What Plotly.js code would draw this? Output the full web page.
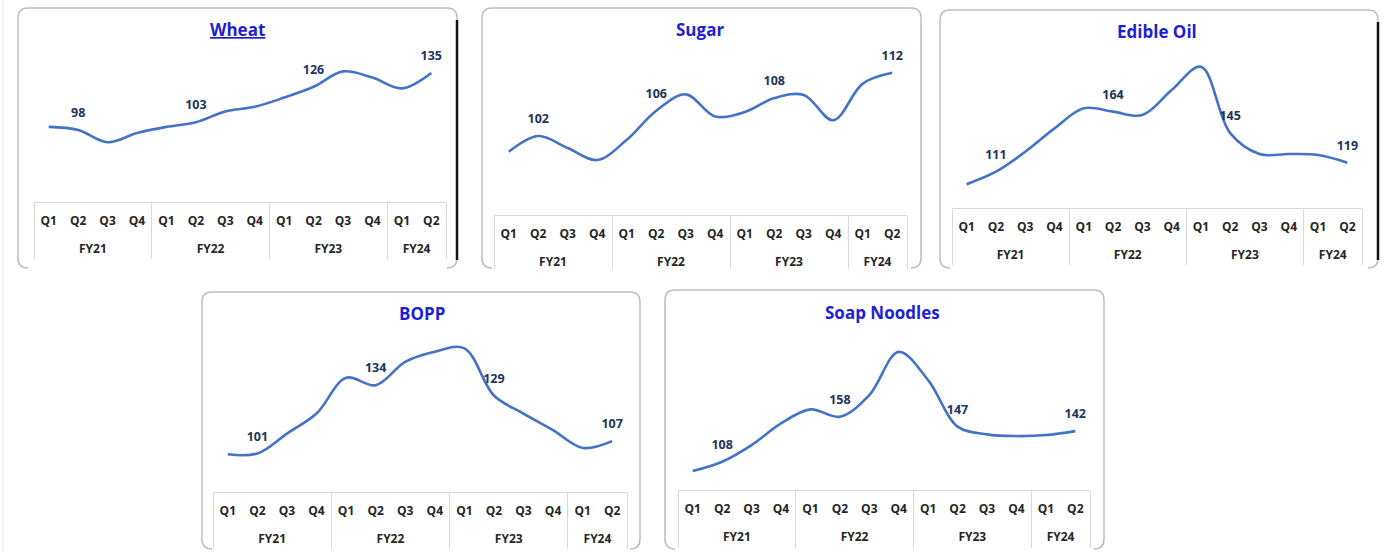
<!DOCTYPE html>
<html>
<head>
<meta charset="utf-8">
<script src="https://cdn.plot.ly/plotly-3.0.1.min.js"></script>
<style>
html,body{margin:0;padding:0;background:#fff;}
#chart{width:1386px;height:552px;}
</style>
</head>
<body>
<div id="chart"></div>
<script>
// ---- data ----
var fiscalYears = ['FY21','FY21','FY21','FY21','FY22','FY22','FY22','FY22','FY23','FY23','FY23','FY23','FY24','FY24'];
var quarters    = ['Q1','Q2','Q3','Q4','Q1','Q2','Q3','Q4','Q1','Q2','Q3','Q4','Q1','Q2'];
var wheat       = [100, 98, 90, 96, 100, 103, 110, 113, 119, 126, 136, 132, 125, 135];
var sugar       = [99.5, 102, 100.1, 98.2, 101.4, 106, 108.6, 105.1, 105.8, 108, 108.5, 104.5, 110.3, 112];
var edibleOil   = [100, 111, 128.6, 149.2, 166.9, 164, 161, 183, 203.6, 145, 126.6, 126.6, 125.7, 119];
var bopp        = [100.6, 101, 110.6, 120.3, 137.6, 134, 145.3, 150.2, 151.8, 129, 120.3, 112.3, 103.7, 107];
var soapNoodles = [97.6, 108, 126.5, 150.6, 166.1, 158, 182, 230, 198.7, 147, 138.4, 136.5, 137.6, 142];
var labelledPoints = [1, 5, 9, 13];
var panelTitles = ['Wheat', 'Sugar', 'Edible Oil', 'BOPP', 'Soap Noodles'];
var panelSeries = [wheat, sugar, edibleOil, bopp, soapNoodles];

// ---- derived category positions (category index scale) ----
var qPos = quarters.map(function(q, i){ return i; });
var fyNames = [], fyCenters = [], fyBounds = [-0.5];
fiscalYears.forEach(function(fy, i){
  var k = fyNames.indexOf(fy);
  if (k < 0) { fyNames.push(fy); fyCenters.push([i, i]); if (i > 0) fyBounds.push(i - 0.5); }
  else { fyCenters[k][1] = i; }
});
fyBounds.push(fiscalYears.length - 0.5);
fyCenters = fyCenters.map(function(c){ return (c[0] + c[1]) / 2; });
var xRange = [-0.5, fiscalYears.length - 0.5];

// ---- layout geometry (pixels) ----
var W = 1386, H = 552;
var geom = [
  {x0:34,  x1:446,  top:40,  bottom:202, yr:[51.2, 156.4], tx:237,  ty:29,  fr:[18,8,457,268],   black:true,  tl:56},
  {x0:494, x1:907,  top:40,  bottom:215, yr:[89.5, 117.2], tx:700,  ty:29,  fr:[482,8,921,268],  black:false, tl:53},
  {x0:952, x1:1362, top:40,  bottom:208, yr:[79, 227.2],   tx:1157, ty:31,  fr:[940,10,1378,268], black:true, tl:56},
  {x0:213, x1:627,  top:320, bottom:492, yr:[82.4, 165.5], tx:422,  ty:313, fr:[202,292,640,549], black:false, tl:56},
  {x0:678, x1:1090, top:320, bottom:490, yr:[76.6, 265.4], tx:883,  ty:312, fr:[665,290,1104,549], black:false, tl:57}
];
function px(x){ return x / W; }
function py(y){ return 1 - y / H; }

var font = 'Open Sans, Lato, sans-serif';
var tickFont = {family: font, size: 12, color: '#262626', weight: 700};
var data = [];
var layout = {
  width: W, height: H,
  margin: {l:0, r:0, t:0, b:0},
  paper_bgcolor: '#ffffff',
  plot_bgcolor: 'rgba(0,0,0,0)',
  showlegend: false,
  hovermode: false,
  annotations: [],
  shapes: []
};

panelSeries.forEach(function(vals, i){
  var g = geom[i];
  var n = i === 0 ? '' : String(i + 1);
  var nq = String(i + 6), nf = String(i + 11);
  data.push({
    type: 'scatter',
    mode: 'lines+markers+text',
    x: [fiscalYears, quarters],
    y: vals,
    xaxis: 'x' + n,
    yaxis: 'y' + n,
    line: {color: '#4472C4', width: 2.6, shape: 'spline', smoothing: 1},
    marker: {size: 14, color: 'rgba(0,0,0,0)'},
    text: vals.map(function(v, k){ return labelledPoints.indexOf(k) >= 0 ? String(v) : ''; }),
    textposition: 'top center',
    textfont: {family: font, size: 12.5, color: '#22345A', weight: 700},
    cliponaxis: false
  });
  // carrier traces so the label axes are drawn
  data.push({type: 'scatter', mode: 'none', x: qPos, y: vals, xaxis: 'x' + nq, yaxis: 'y' + n, hoverinfo: 'skip'});
  data.push({type: 'scatter', mode: 'none', x: qPos, y: vals, xaxis: 'x' + nf, yaxis: 'y' + n, hoverinfo: 'skip'});
  // main category axis (table top line)
  layout['xaxis' + n] = {
    type: 'multicategory',
    domain: [px(g.x0), px(g.x1)],
    anchor: 'y' + n,
    range: xRange,
    showline: true, linecolor: '#d9d9d9', linewidth: 1,
    showdividers: false, showticklabels: false,
    showgrid: false, zeroline: false, ticks: '',
    fixedrange: true
  };
  // quarter labels + group dividers
  layout['xaxis' + nq] = {
    overlaying: 'x' + n, anchor: 'y' + n,
    range: xRange, tickmode: 'array', tickvals: qPos, ticktext: quarters,
    ticks: '', showline: false, showgrid: false, zeroline: false,
    tickfont: tickFont, ticklabelstandoff: 10,
    minor: {tickmode: 'array', tickvals: fyBounds, ticks: 'outside', ticklen: g.tl,
            tickcolor: '#d9d9d9', tickwidth: 1, showgrid: false},
    fixedrange: true
  };
  // fiscal-year labels
  layout['xaxis' + nf] = {
    overlaying: 'x' + n, anchor: 'y' + n,
    range: xRange, tickmode: 'array', tickvals: fyCenters, ticktext: fyNames,
    ticks: '', showline: false, showgrid: false, zeroline: false,
    tickfont: tickFont, ticklabelstandoff: 38,
    fixedrange: true
  };
  layout['yaxis' + n] = {
    domain: [py(g.bottom), py(g.top)],
    anchor: 'x' + n,
    range: g.yr,
    visible: false, showgrid: false, zeroline: false,
    fixedrange: true
  };
  var title = panelTitles[i];
  layout.annotations.push({
    xref: 'paper', yref: 'paper',
    x: px(g.tx), y: py(g.ty),
    xanchor: 'center', yanchor: 'middle',
    showarrow: false,
    text: i === 0 ? '<u>' + title + '</u>' : title,
    font: {family: font, size: 17, color: '#1E1ED6', weight: 700}
  });
  // frame (rounded, open at bottom)
  var f = g.fr, r = 10;
  var p = 'M ' + px(f[0] + r) + ',' + py(f[3]) +
          ' Q ' + px(f[0]) + ',' + py(f[3]) + ' ' + px(f[0]) + ',' + py(f[3] - r) +
          ' L ' + px(f[0]) + ',' + py(f[1] + r) +
          ' Q ' + px(f[0]) + ',' + py(f[1]) + ' ' + px(f[0] + r) + ',' + py(f[1]) +
          ' L ' + px(f[2] - r) + ',' + py(f[1]) +
          ' Q ' + px(f[2]) + ',' + py(f[1]) + ' ' + px(f[2]) + ',' + py(f[1] + r) +
          ' L ' + px(f[2]) + ',' + py(f[3] - r) +
          ' Q ' + px(f[2]) + ',' + py(f[3]) + ' ' + px(f[2] - r) + ',' + py(f[3]);
  layout.shapes.push({type:'path', xref:'paper', yref:'paper', path:p,
    line:{color:'#bdbdbd', width:1.5}, layer:'below'});
  if (g.black) {
    layout.shapes.push({type:'line', xref:'paper', yref:'paper',
      x0:px(f[2]), x1:px(f[2]), y0:py(f[1] + 12), y1:py(f[3] - 8),
      line:{color:'#111111', width:2.5}});
  }
});
// left image border
layout.shapes.push({type:'line', xref:'paper', yref:'paper',
  x0:px(3), x1:px(3), y0:0, y1:1, line:{color:'#e3e3e3', width:1}});

Plotly.newPlot('chart', data, layout, {displayModeBar:false, staticPlot:true});
</script>
</body>
</html>
